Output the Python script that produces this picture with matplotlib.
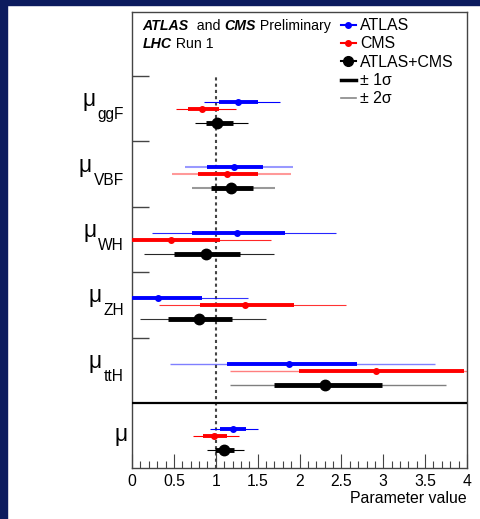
import matplotlib
matplotlib.use('Agg')
import matplotlib.pyplot as plt
from matplotlib.lines import Line2D
from matplotlib.patches import Rectangle
from matplotlib.ticker import MultipleLocator, FixedLocator, FixedFormatter

plt.rcParams['font.family'] = ['Liberation Sans', 'DejaVu Sans']

# parameters, top to bottom ('' = global signal strength)
params = ['ggF', 'VBF', 'WH', 'ZH', 'ttH', '']

# best fit, 1 sigma and 2 sigma intervals
atlas_val = [1.26, 1.22, 1.25, 0.31, 1.88, 1.20]
atlas_1lo = [1.04, 0.90, 0.72, -0.12, 1.13, 1.05]
atlas_1hi = [1.50, 1.56, 1.83, 0.83, 2.69, 1.36]
atlas_2lo = [0.86, 0.63, 0.24, -0.45, 0.45, 0.93]
atlas_2hi = [1.77, 1.92, 2.43, 1.38, 3.62, 1.51]

cms_val = [0.84, 1.14, 0.46, 1.35, 2.91, 0.98]
cms_1lo = [0.67, 0.79, -0.07, 0.81, 1.99, 0.85]
cms_1hi = [1.04, 1.51, 1.05, 1.94, 3.96, 1.13]
cms_2lo = [0.53, 0.48, -0.55, 0.32, 1.17, 0.73]
cms_2hi = [1.24, 1.90, 1.66, 2.56, 4.90, 1.28]

comb_val = [1.02, 1.18, 0.88, 0.80, 2.30, 1.10]
comb_1lo = [0.88, 0.94, 0.50, 0.43, 1.70, 0.99]
comb_1hi = [1.20, 1.45, 1.29, 1.19, 2.98, 1.22]
comb_2lo = [0.75, 0.72, 0.14, 0.10, 1.17, 0.89]
comb_2hi = [1.38, 1.71, 1.70, 1.60, 3.75, 1.34]

xtick_vals = [0, 0.5, 1, 1.5, 2, 2.5, 3, 3.5, 4]
xtick_labels = ['0', '0.5', '1', '1.5', '2', '2.5', '3', '3.5', '4']

# look of the 2 sigma lines per row
alpha2 = [1.0, 0.4, 0.85, 0.8, 0.5, 1.0]
lw2 = [0.8, 1.5, 0.8, 0.8, 1.0, 0.8]

fig = plt.figure(figsize=(4.81, 5.19), dpi=100)
fig.patches.append(Rectangle((0, 0), 7 / 481, 1, transform=fig.transFigure,
                             color='#0c1b5e', zorder=0))
fig.patches.append(Rectangle((0, 1 - 5 / 519), 1, 5 / 519, transform=fig.transFigure,
                             color='#0c1b5e', zorder=0))

ax = fig.add_axes([132 / 481, 1 - 468 / 519, 335 / 481, 456 / 519])
ytop, ybot = -1.375, 5.59
ax.set_xlim(0, 4)
ax.set_ylim(ybot, ytop)

rows = range(len(params))
series = [
    ('blue', 0.0, atlas_val, atlas_1lo, atlas_1hi, atlas_2lo, atlas_2hi, 2.8, 4),
    ('red', 0.107, cms_val, cms_1lo, cms_1hi, cms_2lo, cms_2hi, 2.8, 4),
    ('black', 0.32, comb_val, comb_1lo, comb_1hi, comb_2lo, comb_2hi, 3.5, 7.5),
]
for col, off, val, lo1, hi1, lo2, hi2, lw1, ms in series:
    for i in rows:
        y = i + off
        ax.hlines(y, lo2[i], hi2[i], color=col, lw=lw2[i], alpha=alpha2[i], zorder=2)
        ax.hlines(y, lo1[i], hi1[i], color=col, lw=lw1, zorder=3)
        ax.plot(val[i], y, 'o', color=col, ms=ms, zorder=4)

# SM expectation
frac = (ybot - (-0.4)) / (ybot - ytop)
ax.axvline(1, ymin=0, ymax=frac, color='#444444', lw=1.5, ls=(0, (1.5, 1.5)), zorder=1)
ax.axhline(4.6, color='black', lw=1.6, zorder=5)

ax.xaxis.set_major_locator(FixedLocator(xtick_vals))
ax.xaxis.set_major_formatter(FixedFormatter(xtick_labels))
ax.xaxis.set_minor_locator(MultipleLocator(0.1))
ax.tick_params(axis='x', which='major', direction='in', length=10, width=0.8,
               labelsize=11.3, pad=4, color='#444444')
ax.tick_params(axis='x', which='minor', direction='in', length=5, width=0.8,
               color='#444444')
ax.set_yticks([-0.4, 0.6, 1.6, 2.6, 3.6])
ax.set_yticklabels([])
ax.tick_params(axis='y', direction='in', length=12, width=1, color='#444444')
for s in ax.spines.values():
    s.set_color('#444444')
    s.set_linewidth(1)

ax.set_xlabel('Parameter value', loc='right', fontsize=11.4, labelpad=2)

# parameter labels
ytr = ax.get_yaxis_transform()
for i in rows:
    if params[i]:
        sub = ax.text(-0.024, i + 0.26, params[i], transform=ytr, ha='right',
                      va='baseline', fontsize=11.2)
        ax.annotate('μ', xy=(0, 0), xycoords=sub, xytext=(-1.5, 11.5),
                    textcoords='offset points', ha='right', va='baseline',
                    fontsize=16.5, annotation_clip=False)
    else:
        ax.text(-0.014, i + 0.18, 'μ', transform=ytr, ha='right', va='baseline',
                fontsize=16.5)

# header
t = ax.text(0.032, 0.96, 'ATLAS', transform=ax.transAxes, fontsize=10.2,
            fontweight='bold', fontstyle='italic', va='baseline')
t = ax.annotate('  and ', xy=(1, 0), xycoords=t, va='bottom', fontsize=10.2)
t = ax.annotate('CMS', xy=(1, 0), xycoords=t, va='bottom', fontsize=10.2,
                fontweight='bold', fontstyle='italic')
ax.annotate(' Preliminary', xy=(1, 0), xycoords=t, va='bottom', fontsize=10.2)
t = ax.text(0.032, 0.92, 'LHC', transform=ax.transAxes, fontsize=10.2,
            fontweight='bold', fontstyle='italic', va='baseline')
ax.annotate(' Run 1', xy=(1, 0), xycoords=t, va='bottom', fontsize=10.2)

handles = [
    Line2D([], [], color='blue', lw=1.5, marker='o', ms=4),
    Line2D([], [], color='red', lw=1.5, marker='o', ms=4),
    Line2D([], [], color='black', lw=1.5, marker='o', ms=7),
    Line2D([], [], color='black', lw=2.5),
    Line2D([], [], color='#888888', lw=1.2),
]
labels = ['ATLAS', 'CMS', 'ATLAS+CMS', '± 1σ', '± 2σ']
ax.legend(handles, labels, loc='upper left', bbox_to_anchor=(0.62, 0.99),
          frameon=False, fontsize=11.4, handlelength=0.9, handletextpad=0.3,
          labelspacing=0.21, borderpad=0.1, borderaxespad=0)

fig.savefig('out.png', dpi=100)
